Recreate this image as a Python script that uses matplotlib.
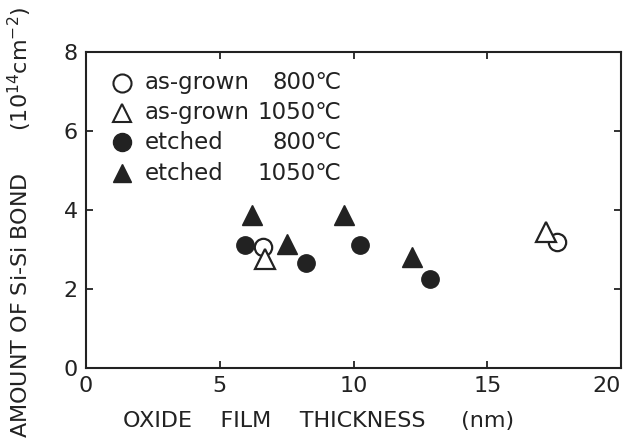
import matplotlib
matplotlib.use('Agg')
from matplotlib import pyplot as plt

# as-grown samples
asgrown_800_x = [6.63, 17.6]
asgrown_800_y = [3.07, 3.18]
asgrown_1050_x = [6.68, 17.2]
asgrown_1050_y = [2.77, 3.45]
# etched samples
etched_800_x = [5.93, 8.22, 10.24, 12.86]
etched_800_y = [3.11, 2.67, 3.12, 2.25]
etched_1050_x = [6.22, 7.5, 9.63, 12.17]
etched_1050_y = [3.87, 3.13, 3.87, 2.82]

legend_names = ['as-grown', 'as-grown', 'etched', 'etched']
legend_temps = ['800\u2103', '1050\u2103', '800\u2103', '1050\u2103']

plt.rcParams['font.family'] = ['DejaVu Sans']
ink = '#222222'

fig = plt.figure(figsize=(6.28, 4.44), dpi=100)
ax = fig.add_axes([0.137, 0.171, 0.852, 0.712])

ms = 12.5
ax.plot(etched_800_x, etched_800_y, 'o', ms=ms, color=ink, mec=ink)
ax.plot(etched_1050_x, etched_1050_y, '^', ms=ms + 1.5, color=ink, mec=ink)
ax.plot(asgrown_800_x, asgrown_800_y, 'o', ms=ms, mfc='white', mec=ink, mew=1.6)
ax.plot(asgrown_1050_x, asgrown_1050_y, '^', ms=ms + 1.5, mfc='white', mec=ink, mew=1.6)

ax.set_xlim(0, 20)
ax.set_ylim(0, 8)
ax.set_xticks([0, 5, 10, 15, 20])
ax.set_yticks([0, 2, 4, 6, 8])
ax.tick_params(direction='in', top=True, right=True, length=5, width=1.3,
               labelsize=16, colors=ink, pad=6)
ax.get_xticklabels()[-1].set_ha('right')
for s in ax.spines.values():
    s.set_linewidth(1.5)
    s.set_color(ink)

ax.set_xlabel('OXIDE    FILM    THICKNESS     (nm)', fontsize=16, color=ink)
ax.xaxis.label.set_va('center')
ax.xaxis.set_label_coords(0.434, -0.168)
fig.text(0.032, 0.5, 'AMOUNT OF Si-Si BOND      (10$^{14}$cm$^{-2}$)', rotation=90,
         ha='center', va='center', fontsize=16, color=ink)

# hand-made legend
styles = [dict(marker='o', mfc='white', mec=ink, mew=1.5),
          dict(marker='^', mfc='white', mec=ink, mew=1.5),
          dict(marker='o', mfc=ink, mec=ink),
          dict(marker='^', mfc=ink, mec=ink)]
row_y = [0.902, 0.807, 0.715, 0.617]
for yy, st, name, temp in zip(row_y, styles, legend_names, legend_temps):
    ax.plot([0.067], [yy], transform=ax.transAxes, ms=13, ls='none', clip_on=False, **st)
    ax.text(0.11, yy, name, transform=ax.transAxes, va='center', ha='left',
            fontsize=16.5, color=ink)
    ax.text(0.478, yy, temp, transform=ax.transAxes, va='center', ha='right',
            fontsize=16.5, color=ink)

fig.savefig('out.png', dpi=100)
